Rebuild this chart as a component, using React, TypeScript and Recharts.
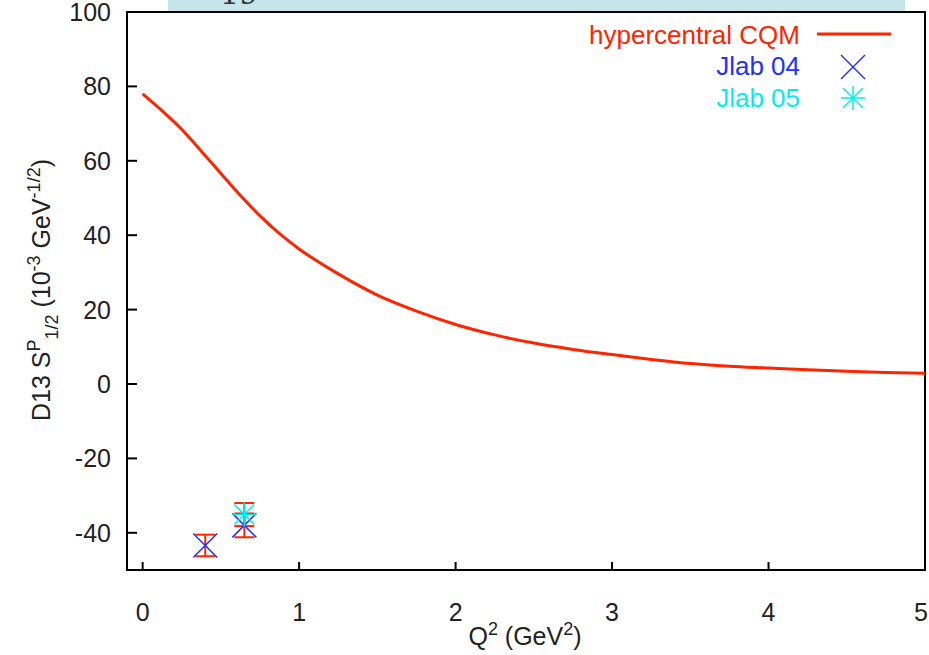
import React from "react";
import {
  ComposedChart,
  Line,
  Scatter,
  ErrorBar,
  XAxis,
  YAxis,
  ReferenceArea,
} from "recharts";

const q2 = [0, 0.125, 0.25, 0.375, 0.5, 0.625, 0.75, 0.875, 1, 1.25, 1.5, 1.75, 2, 2.25, 2.5, 2.75, 3, 3.25, 3.5, 3.75, 4, 4.25, 4.5, 4.75, 5];
const cqm = [78, 73.4, 68.4, 62.6, 56.6, 50.7, 45.2, 40.4, 36.3, 29.6, 23.9, 19.6, 16.0, 13.2, 11.0, 9.3, 7.9, 6.6, 5.5, 4.8, 4.3, 3.8, 3.4, 3.1, 2.9];

const jlab04Q2 = [0.4, 0.65];
const jlab04Val = [-43.4, -38.0];
const jlab04Err = [2.9, 3.2];

const jlab05Q2 = [0.65];
const jlab05Val = [-35.1];
const jlab05Err = [3.1];

const xTicks = [0, 1, 2, 3, 4, 5];
const yTicks = [-40, -20, 0, 20, 40, 60, 80, 100];

const RED = "#ff2400";
const BLUE = "#2030ff";
const CYAN = "#00eeee";
const FONT = "'Liberation Sans', Arial, Helvetica, sans-serif";

const curve = q2.map((x, i) => ({ x, y: cqm[i] }));
const jlab04 = jlab04Q2.map((x, i) => ({ x, y: jlab04Val[i], err: jlab04Err[i] }));
const jlab05 = jlab05Q2.map((x, i) => ({ x, y: jlab05Val[i], err: jlab05Err[i] }));

function Cross({ cx, cy, color }: any) {
  const r = 12;
  return (
    <g stroke={color} strokeWidth={1.5}>
      <line x1={cx - r} y1={cy - r} x2={cx + r} y2={cy + r} />
      <line x1={cx - r} y1={cy + r} x2={cx + r} y2={cy - r} />
    </g>
  );
}

function Star({ cx, cy, color }: any) {
  const r = 12;
  const d = 10;
  return (
    <g stroke={color} strokeWidth={1.5}>
      <line x1={cx - d} y1={cy - d} x2={cx + d} y2={cy + d} />
      <line x1={cx - d} y1={cy + d} x2={cx + d} y2={cy - d} />
      <line x1={cx - r} y1={cy} x2={cx + r} y2={cy} />
      <line x1={cx} y1={cy - r} x2={cx} y2={cy + r} />
    </g>
  );
}

function YTick({ x, y, payload }: any) {
  return (
    <g>
      <line x1={x} y1={y} x2={x + 10} y2={y} stroke="#000" strokeWidth={2} />
      <text x={x - 16} y={y + 9} textAnchor="end" fontSize={25} fontFamily={FONT} fill="#222">
        {payload.value}
      </text>
    </g>
  );
}

function XTick({ x, y, payload }: any) {
  // last label sits at the window edge, keep it inside
  const last = payload.value === xTicks[xTicks.length - 1];
  return (
    <g>
      <line x1={x} y1={y} x2={x} y2={y - 8} stroke="#000" strokeWidth={2} />
      <text
        x={last ? x + 3 : x}
        y={y + 51}
        textAnchor={last ? "end" : "middle"}
        fontSize={25}
        fontFamily={FONT}
        fill="#222"
      >
        {payload.value}
      </text>
    </g>
  );
}

export default function App() {
  return (
    <div style={{ position: "relative", width: 929, height: 655, background: "#fff", overflow: "hidden" }}>
      <style>{"body{margin:0}"}</style>
      <div
        style={{
          position: "absolute",
          left: 168,
          top: 0,
          width: 737,
          height: 11,
          background: "#c6e5e8",
          overflow: "hidden",
        }}
      >
        <div style={{ position: "absolute", left: 52, top: -24, fontFamily: "'DejaVu Serif', serif", fontSize: 30, color: "#333" }}>
          19
        </div>
      </div>
      <div style={{ position: "absolute", left: 0, top: 0 }}>
        <ComposedChart width={929} height={655} margin={{ top: 12, right: 4, left: 0, bottom: 0 }}>
          <XAxis
            dataKey="x"
            type="number"
            domain={[-0.1, 5]}
            ticks={xTicks}
            height={85}
            axisLine={false}
            tickLine={false}
            tickSize={0}
            tickMargin={0}
            tick={<XTick />}
            allowDataOverflow
          />
          <YAxis
            type="number"
            domain={[-50, 100]}
            ticks={yTicks}
            width={127}
            axisLine={false}
            tickLine={false}
            tickSize={0}
            tickMargin={0}
            tick={<YTick />}
            allowDataOverflow
          />
          <ReferenceArea x1={-0.1} x2={5} y1={-50} y2={100} fill="none" stroke="#000" strokeWidth={2} />
          <Line
            data={curve}
            dataKey="y"
            type="monotone"
            stroke={RED}
            strokeWidth={3}
            dot={false}
            isAnimationActive={false}
          />
          <Scatter data={jlab04} dataKey="y" shape={(p: any) => <Cross {...p} color={BLUE} />} isAnimationActive={false}>
            <ErrorBar dataKey="err" direction="y" width={10} stroke={RED} strokeWidth={2} isAnimationActive={false} />
          </Scatter>
          <Scatter data={jlab05} dataKey="y" shape={(p: any) => <Star {...p} color={CYAN} />} isAnimationActive={false}>
            <ErrorBar dataKey="err" direction="y" width={10} stroke={RED} strokeWidth={2} isAnimationActive={false} />
          </Scatter>
        </ComposedChart>
      </div>
      <svg width={929} height={655} style={{ position: "absolute", left: 0, top: 0, pointerEvents: "none" }}>
        <g fontFamily={FONT} fontSize={26}>
          <text x={800} y={44} textAnchor="end" fill={RED}>hypercentral CQM</text>
          <line x1={817} y1={34} x2={891} y2={34} stroke={RED} strokeWidth={3} />
          <text x={800} y={75} textAnchor="end" fill={BLUE}>Jlab 04</text>
          <Cross cx={853} cy={67} color={BLUE} />
          <text x={800} y={107} textAnchor="end" fill={CYAN}>Jlab 05</text>
          <Star cx={853} cy={98} color={CYAN} />
        </g>
        <g fontFamily={FONT} fill="#222">
          <text transform="translate(50,290) rotate(-90)" textAnchor="middle" fontSize={25}>
            D13 S
            <tspan fontSize={18} dy={-10}>P</tspan>
            <tspan fontSize={18} dy={18}>1/2</tspan>
            <tspan fontSize={25} dy={-8}> (10</tspan>
            <tspan fontSize={18} dy={-10}>-3</tspan>
            <tspan fontSize={25} dy={10}> GeV</tspan>
            <tspan fontSize={18} dy={-10}>-1/2</tspan>
            <tspan fontSize={25} dy={10}>)</tspan>
          </text>
          <text x={525} y={645} textAnchor="middle" fontSize={25}>
            Q
            <tspan fontSize={18} dy={-10}>2</tspan>
            <tspan fontSize={25} dy={10}> (GeV</tspan>
            <tspan fontSize={18} dy={-10}>2</tspan>
            <tspan fontSize={25} dy={10}>)</tspan>
          </text>
        </g>
      </svg>
    </div>
  );
}
